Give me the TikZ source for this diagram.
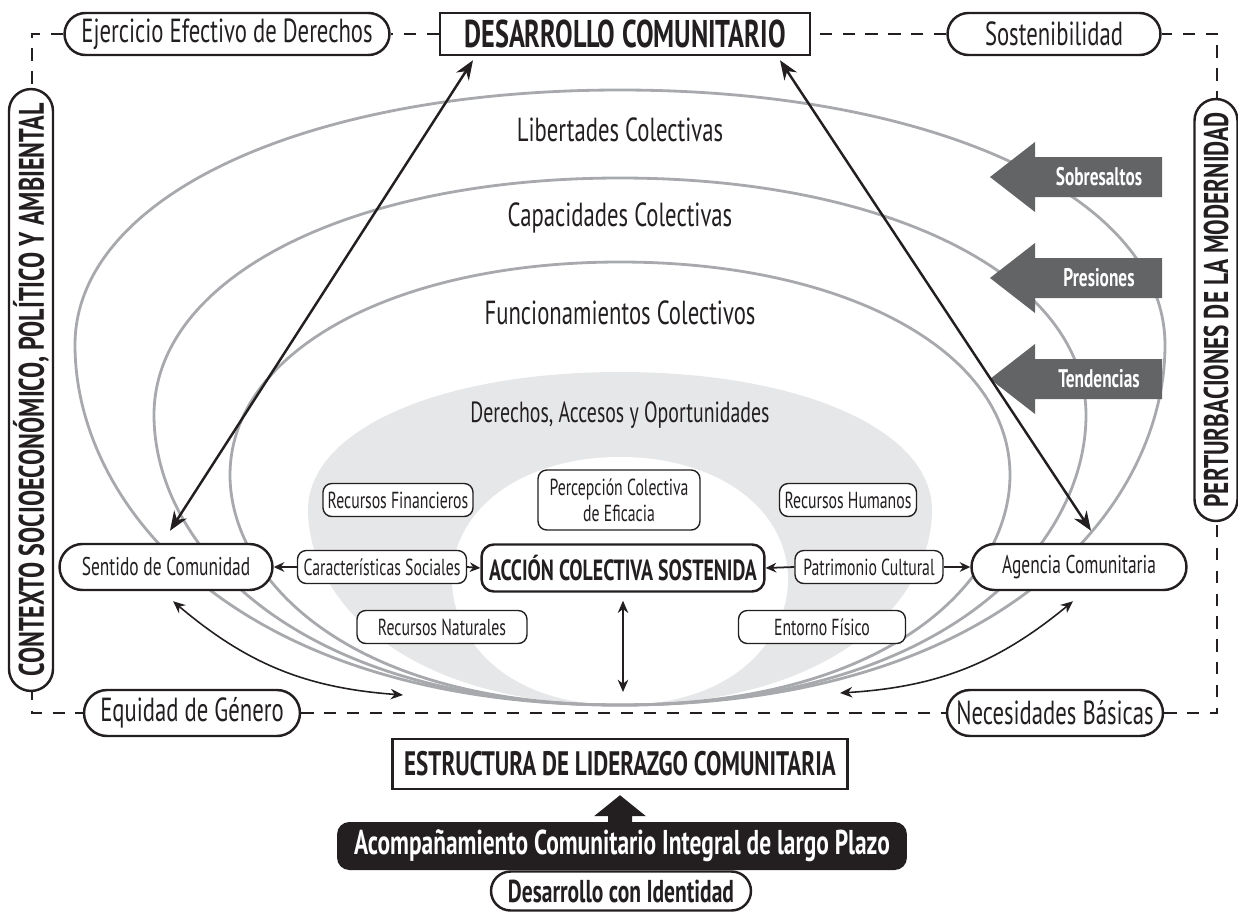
\documentclass[tikz,border=0pt]{standalone}
\usepackage{fontspec}
\setmainfont{PT Sans}[FakeStretch=0.68]
\usetikzlibrary{arrows.meta,calc,shapes.misc,backgrounds}

\definecolor{curvegray}{HTML}{A7A9AC}
\definecolor{fillgray}{HTML}{E6E7E8}
\definecolor{arrowgray}{HTML}{636466}
\definecolor{ink}{HTML}{231F20}

\tikzset{
  egg/.style n args={3}{insert path={
    (620,705) .. controls ({620-0.7*#1},705) and ({620-#1},{#2+0.45*(705-#2)}) .. ({620-#1},#2)
    .. controls ({620-#1},{#2-0.58*(#2-#3)}) and ({620-0.58*#1},#3) .. (620,#3)
    .. controls ({620+0.58*#1},#3) and ({620+#1},{#2-0.58*(#2-#3)}) .. ({620+#1},#2)
    .. controls ({620+#1},{#2+0.45*(705-#2)}) and ({620+0.7*#1},705) .. (620,705) -- cycle}},
  ring/.style={draw=curvegray, line width=1.6pt},
  pill/.style={rounded rectangle, draw=ink, line width=1.4pt, fill=white, inner sep=0pt,
    text=ink, font=\fontsize{19}{22}\selectfont},
  sqbox/.style={rectangle, draw=ink, line width=1.4pt, fill=white, inner sep=0pt,
    text=ink, font=\bfseries\fontsize{19.3}{22}\selectfont},
  sidebox/.style={rounded rectangle, draw=ink, line width=1.4pt, fill=white, inner sep=0pt,
    text=ink, rotate=90, font=\bfseries\fontsize{20.2}{23}\selectfont},
  midpill/.style={rounded rectangle, draw=ink, line width=1.4pt, fill=white, inner sep=0pt,
    text=ink, font=\fontsize{14.6}{17}\selectfont},
  smallbox/.style={rectangle, rounded corners=5pt, draw=ink, line width=0.8pt, fill=white,
    inner sep=0pt, text=ink, align=center, font=\fontsize{13.2}{15}\selectfont},
  ringlabel/.style={text=ink, font=\fontsize{19}{22}\selectfont},
  forcelabel/.style={text=white, font=\bfseries\fontsize{14.5}{16}\selectfont},
  frame/.style={draw=ink, line width=1.4pt, dash pattern=on 7pt off 6pt},
  bigarrow/.style={draw=ink, line width=1.4pt, {Stealth[length=11pt,width=8.5pt]}-{Stealth[length=11pt,width=8.5pt]}},
  midarrow/.style={draw=ink, line width=0.9pt, {Stealth[length=7pt,width=6pt]}-{Stealth[length=7pt,width=6pt]}},
  smallarrow/.style={draw=ink, line width=1pt, -{Stealth[length=6pt,width=5.5pt]}}
}

\begin{document}
\begin{tikzpicture}[x=0.02cm,y=-0.02cm]
\useasboundingbox (0,0) rectangle (1238,913);

% nested fields of the model
\fill[fillgray] [egg={312}{510}{372}];
\fill[white] [egg={168}{580}{457}];
\draw[ring] [egg={545}{345}{90}];
\draw[ring] [egg={466}{415}{178}];
\draw[ring] [egg={390}{475}{262}];

\node[ringlabel] (lib) at (620,130) {Libertades Colectivas};
\node[ringlabel] (cap) at (620,218) {Capacidades Colectivas};
\node[ringlabel] (fun) at (620,313) {Funcionamientos Colectivos};
\node[ringlabel, font=\fontsize{16.6}{19}\selectfont] (der) at (620,415) {Derechos, Accesos y Oportunidades};

% external forces
\foreach \yy/\nm/\txt in {177/sob/Sobresaltos, 278/pre/Presiones, 379/ten/Tendencias}{
  \fill[arrowgray] (990,\yy) -- (1035,\yy-35) -- (1035,\yy-20) -- (1162,\yy-20)
     -- (1162,\yy+20) -- (1035,\yy+20) -- (1035,\yy+35) -- cycle;
  \node[forcelabel] (\nm) at (1099,\yy) {\txt};
}

% frame labels
\node[pill, minimum width=6.5cm, minimum height=0.84cm] (ejer) at (227,34) {Ejercicio Efectivo de Derechos};
\node[sqbox, minimum width=7.4cm, minimum height=0.84cm, font=\bfseries\fontsize{22}{25}\selectfont] (desa) at (625,34) {DESARROLLO COMUNITARIO};
\node[pill, minimum width=4.26cm, minimum height=0.84cm] (sost) at (1054,34) {Sostenibilidad};
\node[sidebox, minimum width=12.04cm, minimum height=0.88cm] (ctx) at (31,390) {CONTEXTO SOCIOECONÓMICO, POLÍTICO Y AMBIENTAL};
\node[sidebox, minimum width=8.44cm, minimum height=0.86cm, font=\bfseries\fontsize{19.5}{22}\selectfont] (pert) at (1216,310) {PERTURBACIONES DE LA MODERNIDAD};
\node[pill, minimum width=4.32cm, minimum height=0.92cm] (equi) at (192,713) {Equidad de Género};
\node[pill, minimum width=4.32cm, minimum height=0.92cm] (nece) at (1055,713) {Necesidades Básicas};

% dashed frame
\coordinate (tl) at (32,34);
\coordinate (tr) at (1217,34);
\coordinate (bl) at (32,713);
\coordinate (br) at (1217,713);
\begin{scope}[on background layer]
\draw[frame] (ejer.west) -- (tl) -- (bl) -- (equi.west);
\draw[frame] (equi.east) -- (nece.west);
\draw[frame] (nece.east) -- (br) -- (tr) -- (sost.east);
\draw[frame] (sost.west) -- (desa.east);
\draw[frame] (desa.west) -- (ejer.east);
\end{scope}

% inner elements
\node[midpill, minimum width=4.26cm, minimum height=0.92cm] (sent) at (166,567) {Sentido de Comunidad};
\node[midpill, minimum width=4.3cm, minimum height=0.92cm] (agen) at (1079,567) {Agencia Comunitaria};
\node[rectangle, rounded corners=7pt, draw=ink, line width=1.4pt, fill=white, inner sep=0pt,
  minimum width=5.66cm, minimum height=0.94cm, text=ink, font=\bfseries\fontsize{16.6}{19}\selectfont]
  (accion) at (623,568) {ACCIÓN COLECTIVA SOSTENIDA};
\node[smallbox, minimum width=3.38cm, minimum height=0.66cm] (caract) at (382,567) {Características Sociales};
\node[smallbox, minimum width=2.96cm, minimum height=0.66cm] (patri) at (869,567) {Patrimonio Cultural};
\node[smallbox, minimum width=3.0cm, minimum height=0.66cm] (recfin) at (398,500) {Recursos Financieros};
\node[smallbox, minimum width=3.24cm, minimum height=1.2cm] (percep) at (619,500) {Percepción Colectiva\\de Eficacia};
\node[smallbox, minimum width=2.74cm, minimum height=0.66cm] (rechum) at (848,500) {Recursos Humanos};
\node[smallbox, minimum width=3.4cm, minimum height=0.66cm] (recnat) at (442,627) {Recursos Naturales};
\node[smallbox, minimum width=3.34cm, minimum height=0.66cm] (entorno) at (822,627) {Entorno Físico};

% lower block
\node[sqbox, minimum width=9.1cm, minimum height=1.0cm] (estr) at (620,764) {ESTRUCTURA DE LIDERAZGO COMUNITARIA};
% broad arrow from the accompaniment bar up to the leadership structure (drawn under the bar)
\coordinate (upbase) at ($(estr.south)+(0,26)$);
\fill[ink] ($(upbase)+(-12,14)$) -- ($(upbase)+(-12,0)$) -- ($(upbase)+(-26,0)$) -- ($(estr.south)+(0,5)$)
  -- ($(upbase)+(26,0)$) -- ($(upbase)+(12,0)$) -- ($(upbase)+(12,14)$) -- cycle;
\node[rectangle, rounded corners=7pt, fill=ink, inner sep=0pt, minimum width=11.4cm, minimum height=0.96cm,
  text=white, font=\bfseries\fontsize{19.6}{22}\selectfont] (acomp) at (622,846) {Acompañamiento Comunitario Integral de largo Plazo};
\node[pill, minimum width=5.2cm, minimum height=0.78cm, font=\bfseries\fontsize{18}{21}\selectfont] (ident) at (621,891) {Desarrollo con Identidad};

% connectors
\draw[bigarrow] ($(sent.north)+(4,-12)$) -- ($(desa.south)+(-152,4)$);
\draw[bigarrow] ($(agen.north)+(12,-12)$) -- ($(desa.south)+(155,4)$);
\coordinate (cl) at (403,695);
\coordinate (cr) at (840,693);
\coordinate (vb) at (623,692);
\draw[midarrow] ($(sent.south)+(7,10)$) to[bend right=18] (cl);
\draw[midarrow] ($(agen.south)+(-6,10)$) to[bend left=18] (cr);
\draw[midarrow] ($(accion.south)+(0,8)$) -- (vb);
\draw[smallarrow] (caract.west) -- (sent.east);
\draw[smallarrow] (caract.east) -- (accion.west);
\draw[smallarrow] (patri.west) -- (accion.east);
\draw[smallarrow] (patri.east) -- (agen.west);
\end{tikzpicture}
\end{document}
